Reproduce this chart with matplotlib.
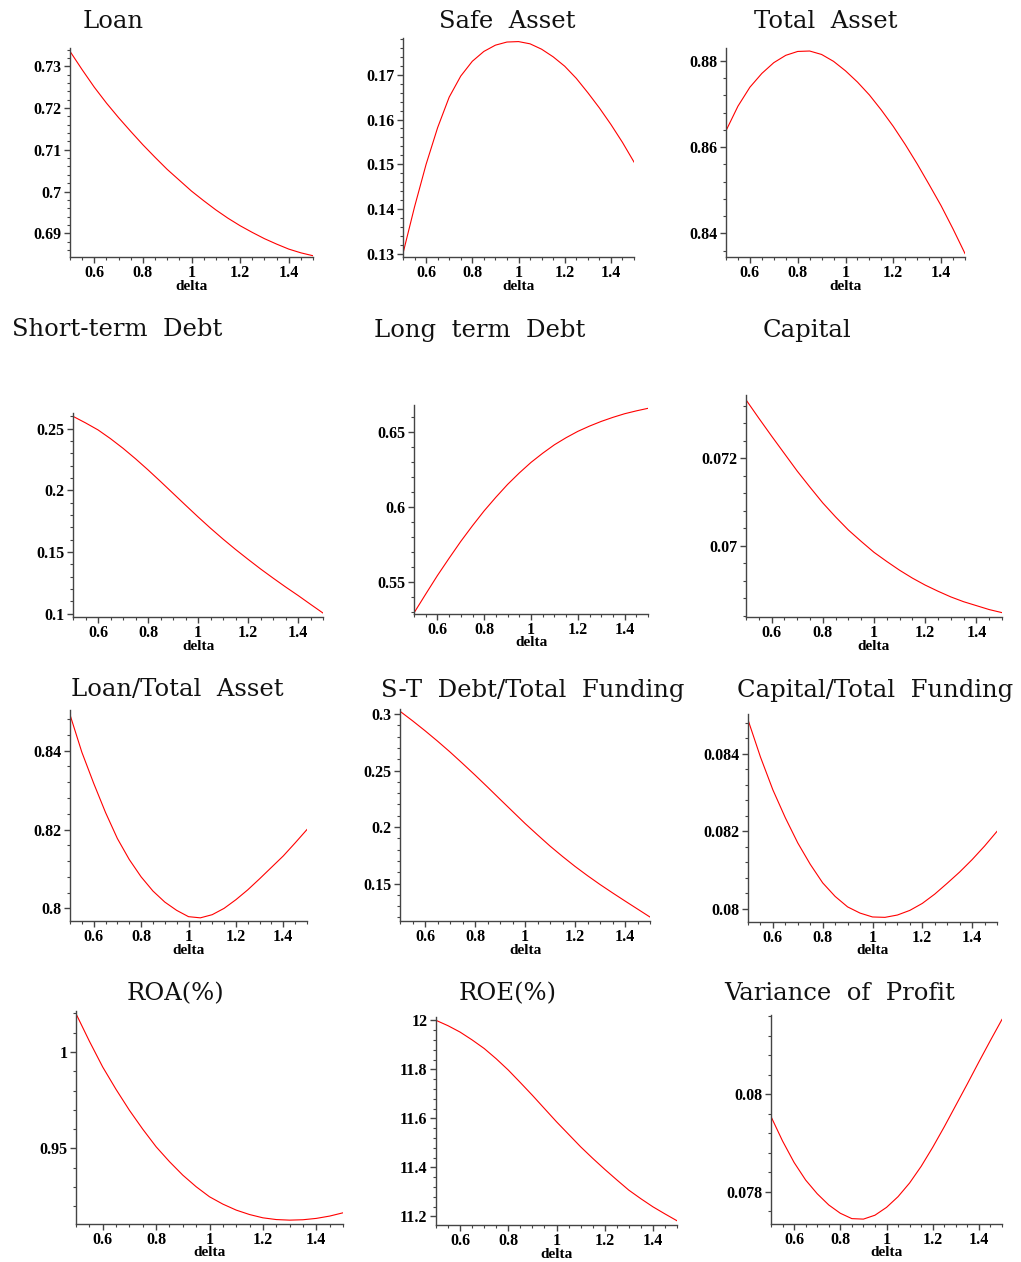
"""
delta 변화에 따른 은행 변수 비교 (Maple 스타일 12패널)
"""
import matplotlib
matplotlib.use('Agg')
import matplotlib.pyplot as plt
from matplotlib.ticker import MultipleLocator, FuncFormatter

W, H = 1021, 1262

# 공통 x축 값
delta = [0.5, 0.55, 0.6, 0.65, 0.7, 0.75, 0.8, 0.85, 0.9, 0.95, 1.0,
         1.05, 1.1, 1.15, 1.2, 1.25, 1.3, 1.35, 1.4, 1.45, 1.5]

# 패널별 곡선 값
loan = [0.7336, 0.7292, 0.7250, 0.7212, 0.7177, 0.7144, 0.7112, 0.7082, 0.7053, 0.7027, 0.7001,
        0.6978, 0.6956, 0.6936, 0.6918, 0.6902, 0.6887, 0.6874, 0.6862, 0.6853, 0.6846]
safe_asset = [0.1301, 0.1405, 0.1500, 0.1582, 0.1650, 0.1697, 0.1730, 0.1752, 0.1766, 0.1773, 0.1774,
              0.1769, 0.1757, 0.1740, 0.1719, 0.1692, 0.1660, 0.1626, 0.1589, 0.1549, 0.1505]
total_asset = [0.8638, 0.8695, 0.8739, 0.8771, 0.8796, 0.8813, 0.8822, 0.8823, 0.8815, 0.8799, 0.8777,
               0.8751, 0.8721, 0.8686, 0.8648, 0.8606, 0.8561, 0.8513, 0.8464, 0.8410, 0.8353]
st_debt = [0.2600, 0.2547, 0.2490, 0.2419, 0.2341, 0.2256, 0.2166, 0.2072, 0.1976, 0.1880, 0.1785,
           0.1693, 0.1605, 0.1521, 0.1441, 0.1363, 0.1289, 0.1217, 0.1148, 0.1076, 0.1005]
lt_debt = [0.5297, 0.5422, 0.5545, 0.5660, 0.5772, 0.5876, 0.5975, 0.6065, 0.6150, 0.6226, 0.6296,
           0.6357, 0.6413, 0.6460, 0.6502, 0.6537, 0.6568, 0.6595, 0.6619, 0.6638, 0.6655]
capital = [0.07334, 0.07292, 0.07251, 0.07211, 0.07171, 0.07134, 0.07098, 0.07066, 0.07036, 0.07010, 0.06985,
           0.06964, 0.06944, 0.06926, 0.06910, 0.06896, 0.06883, 0.06872, 0.06863, 0.06854, 0.06847]
loan_ta = [0.8491, 0.8396, 0.8317, 0.8243, 0.8177, 0.8124, 0.8080, 0.8044, 0.8016, 0.7995, 0.7979,
           0.7976, 0.7984, 0.8000, 0.8022, 0.8047, 0.8075, 0.8104, 0.8133, 0.8166, 0.8200]
st_tf = [0.3024, 0.2940, 0.2852, 0.2760, 0.2664, 0.2563, 0.2460, 0.2354, 0.2246, 0.2139, 0.2032,
         0.1931, 0.1832, 0.1740, 0.1652, 0.1570, 0.1492, 0.1418, 0.1346, 0.1275, 0.1204]
cap_tf = [0.08488, 0.08392, 0.08307, 0.08235, 0.08170, 0.08115, 0.08067, 0.08032, 0.08005, 0.07989, 0.07979,
          0.07978, 0.07984, 0.07996, 0.08014, 0.08038, 0.08066, 0.08095, 0.08127, 0.08162, 0.08200]
roa = [1.0198, 1.0056, 0.9922, 0.9806, 0.9698, 0.9600, 0.9509, 0.9432, 0.9362, 0.9302, 0.9250,
       0.9212, 0.9181, 0.9158, 0.9141, 0.9132, 0.9129, 0.9131, 0.9138, 0.9150, 0.9167]
roe = [12.000, 11.978, 11.952, 11.920, 11.885, 11.843, 11.797, 11.746, 11.694, 11.640, 11.586,
       11.535, 11.484, 11.437, 11.392, 11.349, 11.307, 11.272, 11.239, 11.210, 11.182]
var_profit = [0.07954, 0.07904, 0.07860, 0.07824, 0.07796, 0.07773, 0.07756, 0.07745, 0.07744, 0.07752, 0.07768,
              0.07790, 0.07818, 0.07852, 0.07891, 0.07933, 0.07977, 0.08021, 0.08066, 0.08110, 0.08153]

titles = ['Loan', 'Safe  Asset', 'Total  Asset',
          'Short-term  Debt', 'Long  term  Debt', 'Capital',
          'Loan/Total  Asset', 'S-T  Debt/Total  Funding', 'Capital/Total  Funding',
          'ROA(%)', 'ROE(%)', 'Variance  of  Profit']
series = [loan, safe_asset, total_asset, st_debt, lt_debt, capital,
          loan_ta, st_tf, cap_tf, roa, roe, var_profit]
ylims = [(0.6843, 0.7344), (0.1293, 0.1782), (0.8345, 0.8830),
         (0.0973, 0.2627), (0.5290, 0.6677), (0.06837, 0.07345),
         (0.7968, 0.8503), (0.1169, 0.3044), (0.07966, 0.08503),
         (0.9109, 1.0212), (11.1647, 12.0136), (0.07734, 0.08162)]
ymajor = [0.01, 0.01, 0.02, 0.05, 0.05, 0.002, 0.02, 0.05, 0.002, 0.05, 0.2, 0.002]
yminor = [0.002, 0.002, 0.004, 0.01, 0.01, 0.0004, 0.004, 0.01, 0.0004, 0.01, 0.04, 0.0004]

# 축 위치 (픽셀: 왼쪽, 위, 오른쪽, 아래)
boxes = [(70, 48, 313, 257), (403, 38, 634, 257), (726, 48, 965, 257),
         (73, 413, 323, 617), (414, 405, 648, 614), (746, 395, 1002, 617),
         (70, 710, 307, 921), (400, 709, 650, 921), (748, 714, 997, 922),
         (76, 1011, 343, 1224), (436, 1017, 677, 1225), (771, 1015, 1002, 1224)]
# 제목 위치 (픽셀 중심)
title_pos = [(113, 21), (507, 21), (826, 21),
             (117, 330), (480, 330), (807, 330),
             (177, 690), (533, 690), (875, 690),
             (175, 994), (508, 994), (840, 994)]

fig = plt.figure(figsize=(W / 100, H / 100), dpi=100)
fmt = FuncFormatter(lambda v, p: f'{round(v, 6):g}')
tick_font = {'family': 'Liberation Serif', 'weight': 'bold', 'size': 11.5}

for i in range(12):
    l, t, r, b = boxes[i]
    ax = fig.add_axes([l / W, 1 - b / H, (r - l) / W, (b - t) / H])
    ax.plot(delta, series[i], color='red', linewidth=0.8)
    ax.set_xlim(0.5, 1.5)
    ax.set_ylim(*ylims[i])

    for s in ['top', 'right']:
        ax.spines[s].set_visible(False)
    for s in ['left', 'bottom']:
        ax.spines[s].set_color('#444444')
        ax.spines[s].set_linewidth(1.0)

    ax.xaxis.set_major_locator(MultipleLocator(0.2))
    ax.xaxis.set_minor_locator(MultipleLocator(0.05))
    ax.yaxis.set_major_locator(MultipleLocator(ymajor[i]))
    ax.yaxis.set_minor_locator(MultipleLocator(yminor[i]))
    ax.xaxis.set_major_formatter(fmt)
    ax.yaxis.set_major_formatter(fmt)
    ax.tick_params(which='major', length=4, width=1, color='#444444', pad=2)
    ax.tick_params(which='minor', length=2.5, width=0.8, color='#444444')
    for lab in ax.get_xticklabels() + ax.get_yticklabels():
        lab.set_fontproperties(tick_font)

    ax.annotate('delta', xy=(0.5, 0), xycoords='axes fraction',
                xytext=(0, -29 * 0.72), textcoords='offset points',
                ha='center', va='center', family='Liberation Serif',
                weight='bold', size=11)

    tx, ty = title_pos[i]
    fig.text(tx / W, 1 - ty / H, titles[i], ha='center', va='center',
             family='DejaVu Serif', size=17.5, color='#111111')

plt.savefig('out.png', dpi=100)
